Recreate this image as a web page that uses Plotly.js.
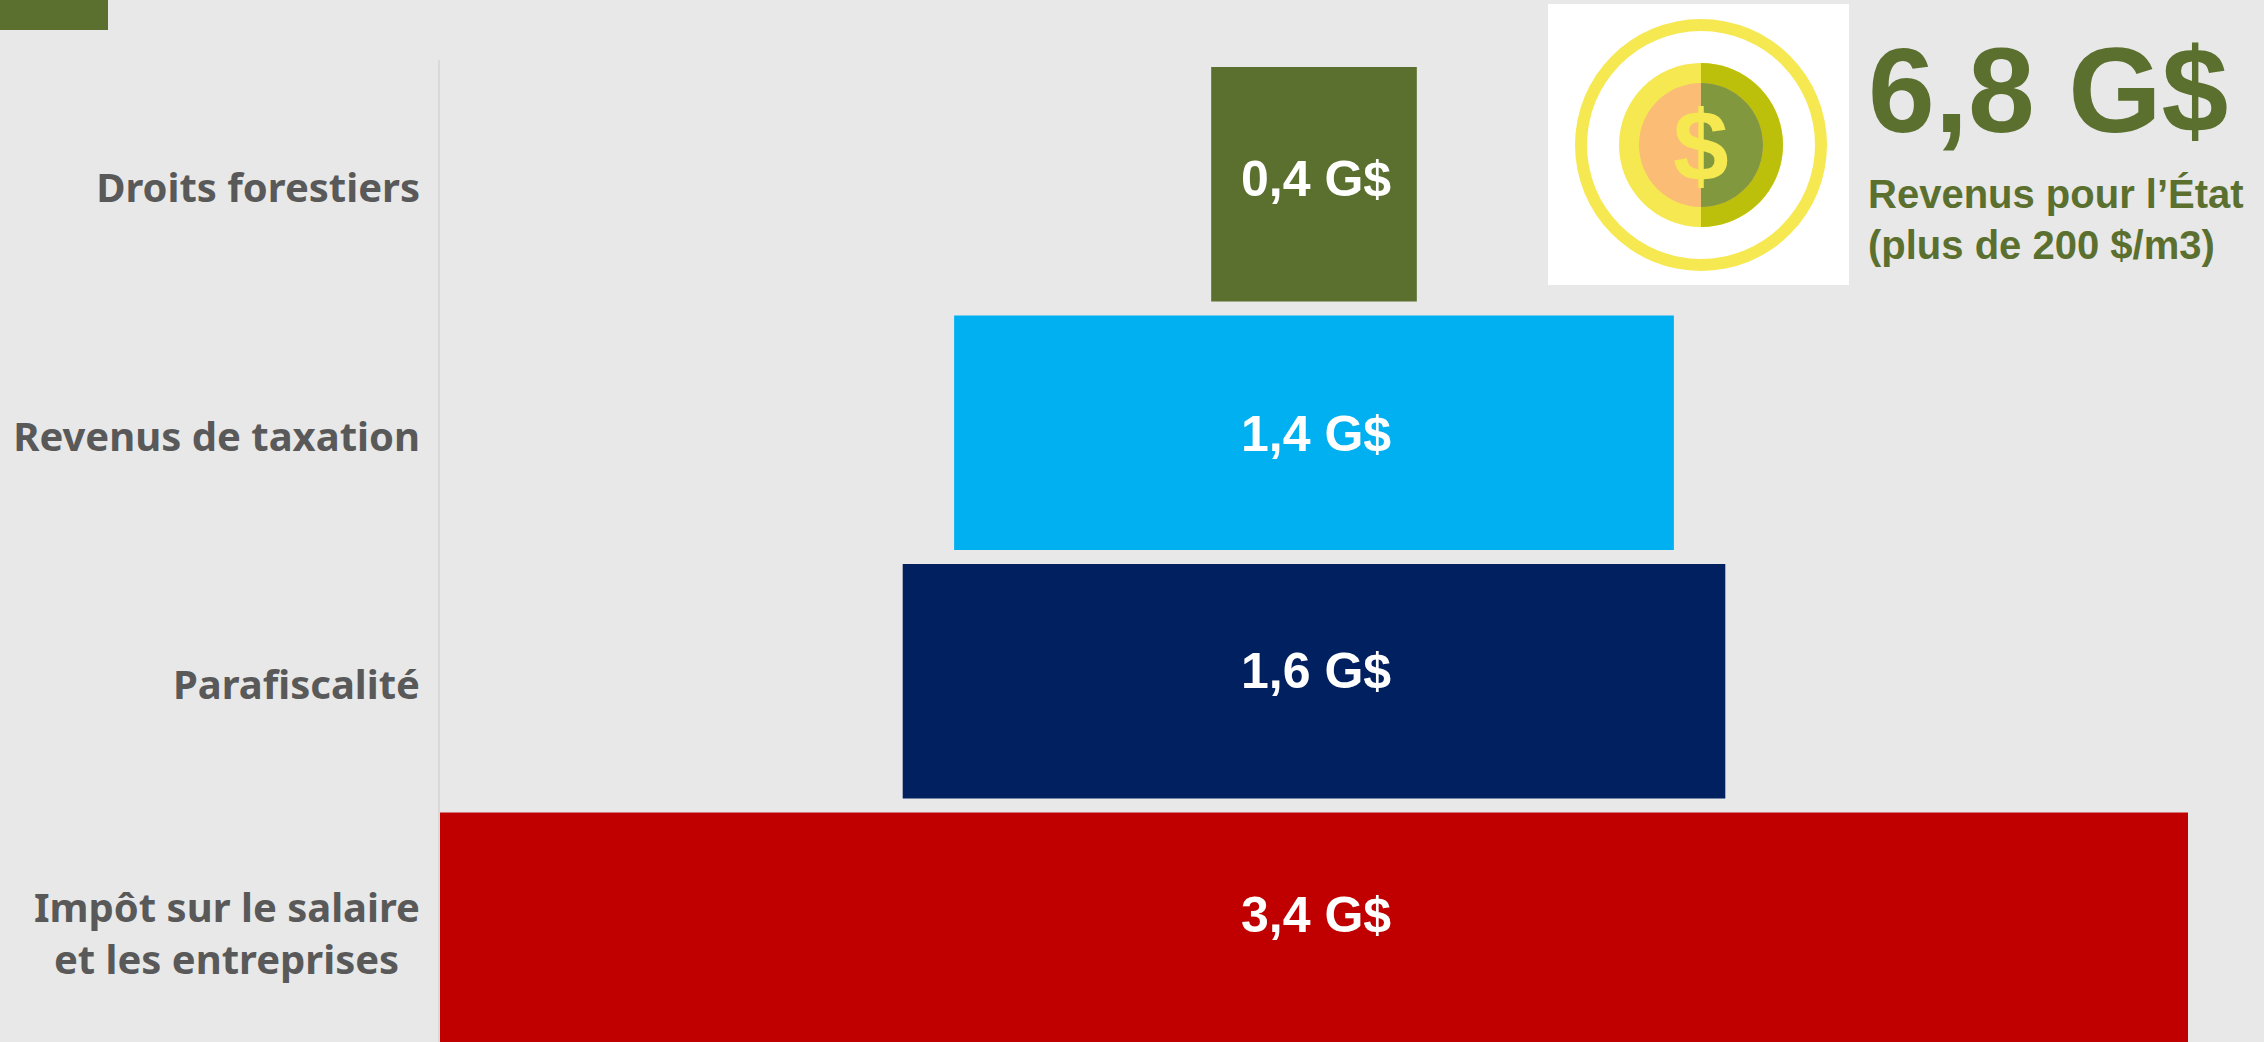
<!DOCTYPE html>
<html lang="fr">
<head>
<meta charset="utf-8">
<script src="https://cdn.plot.ly/plotly-3.0.1.min.js"></script>
<style>html,body{margin:0;padding:0;background:#E8E8E8;overflow:hidden}#chart{width:2264px;height:1042px}</style>
</head>
<body>
<div id="chart"></div>
<script>
const categories = ["Droits forestiers", "Revenus de taxation", "Parafiscalité", "Impôt sur le salaire<br>et les entreprises&nbsp;&nbsp;"];
const values = [0.4, 1.4, 1.6, 3.4];
const barColors = ["#5B702F", "#00B0F0", "#002060", "#C00000"];
const totalLabel = "6,8 G$";
const subtitleLines = ["Revenus pour l’État", "(plus de 200 $/m3)"];

const W = 2264, H = 1042;
const plot = {l: 440, r: 2188, t: 60, b: 1042};
const px = x => (x - plot.l) / (plot.r - plot.l);
const py = y => (plot.b - y) / (plot.b - plot.t);
const GREEN = "#5B702F";
const fmt = v => v.toFixed(1).replace(".", ",") + " G$";
const labelNudge = [-5, 1, -10, -15];

function rect(x0, y0, x1, y1, color) {
  return {type: "rect", xref: "paper", yref: "paper", x0: px(x0), x1: px(x1), y0: py(y0), y1: py(y1),
          fillcolor: color, line: {width: 0}, layer: "above"};
}
function circle(cx, cy, r, color) {
  return {type: "circle", xref: "paper", yref: "paper", x0: px(cx - r), x1: px(cx + r), y0: py(cy - r), y1: py(cy + r),
          fillcolor: color, line: {width: 0}, layer: "above"};
}
function rightHalf(cx, cy, r, color) {
  const k = 0.5523 * r;
  const P = (x, y) => px(x) + "," + py(y);
  const d = "M" + P(cx, cy - r) +
    " C" + P(cx + k, cy - r) + " " + P(cx + r, cy - k) + " " + P(cx + r, cy) +
    " C" + P(cx + r, cy + k) + " " + P(cx + k, cy + r) + " " + P(cx, cy + r) + " Z";
  return {type: "path", xref: "paper", yref: "paper", path: d, fillcolor: color, line: {width: 0}, layer: "above"};
}

const cx = 1701, cy = 145;
const shapes = [
  rect(0, 0, 108, 30, GREEN),
  rect(1548, 4, 1849, 285, "#FFFFFF"),
  circle(cx, cy, 126, "#F5E850"),
  circle(cx, cy, 114, "#FFFFFF"),
  circle(cx, cy, 82, "#F5E850"),
  rightHalf(cx, cy, 82, "#BCC00A"),
  circle(cx, cy, 62, "#FBBC75"),
  rightHalf(cx, cy, 62, "#81983F")
];

const textAnn = (x, y, text, size, color) => ({
  xref: "paper", yref: "paper", x: px(x), y: py(y), xanchor: "left", yanchor: "middle",
  text: text, showarrow: false, font: {family: "Liberation Sans", size: size, color: color},
  borderpad: 0, borderwidth: 0
});

const annotations = [
  ...values.map((v, i) => ({
    xref: "x", yref: "y", x: 0.003, y: categories[i], yshift: -labelNudge[i],
    xanchor: "center", yanchor: "middle",
    text: "<b>" + fmt(v) + "</b>", showarrow: false,
    font: {family: "Liberation Sans", size: 50, color: "#FFFFFF"}
  })),
  textAnn(1868, 90, "<b>" + totalLabel + "</b>", 120, GREEN),
  textAnn(1868, 194, "<b>" + subtitleLines[0] + "</b>", 40, GREEN),
  textAnn(1868, 245, "<b>" + subtitleLines[1] + "</b>", 40, GREEN),
  {xref: "paper", yref: "paper", x: px(cx), y: py(cy + 1), xanchor: "center", yanchor: "middle",
   text: "<b>$</b>", showarrow: false,
   font: {family: "Liberation Sans", size: 100, color: "#F5E850"}}
];

const trace = {
  type: "bar", orientation: "h",
  y: categories, x: values, base: values.map(v => -v / 2),
  marker: {color: barColors, line: {width: 0}},
  hoverinfo: "skip"
};

const layout = {
  width: W, height: H,
  margin: {l: plot.l, r: W - plot.r, t: plot.t, b: H - plot.b, pad: 0},
  paper_bgcolor: "#E8E8E8", plot_bgcolor: "#E8E8E8",
  showlegend: false, bargap: 14 / 248.5,
  xaxis: {range: [-1.7, 1.7], visible: false, fixedrange: true},
  yaxis: {
    type: "category", categoryorder: "array", categoryarray: categories,
    range: [3.452, -0.5], autorange: false, fixedrange: true,
    showgrid: false, zeroline: false, showline: true, linecolor: "#D9D9D9", linewidth: 2,
    ticks: "", ticklabelstandoff: 10, ticklabelshift: -4,
    tickfont: {family: "Noto Sans", size: 40, color: "#595959", weight: 700}
  },
  shapes: shapes, annotations: annotations
};
Plotly.newPlot("chart", [trace], layout, {displayModeBar: false, staticPlot: true});
</script>
</body>
</html>
